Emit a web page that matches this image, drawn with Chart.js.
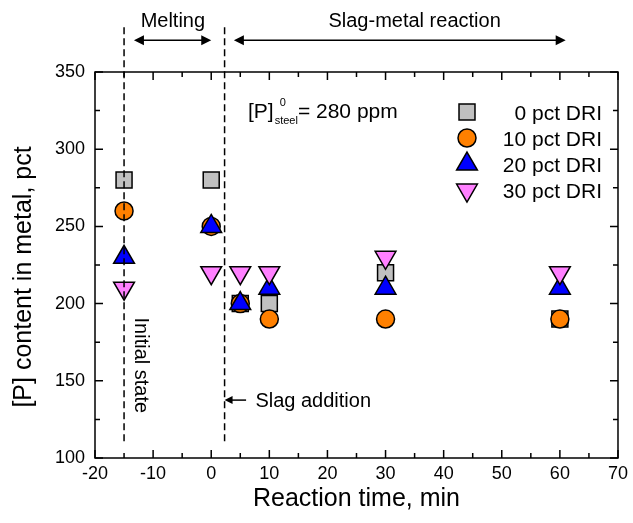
<!DOCTYPE html>
<html>
<head>
<meta charset="utf-8">
<script src="https://cdn.jsdelivr.net/npm/chart.js@4.4.1/dist/chart.umd.min.js"></script>
<style>
  body { margin: 0; background: #fff; }
  canvas { display: block; }
</style>
</head>
<body>
<canvas id="chart" width="633" height="523"></canvas>
<script>
// reaction time (min) and [P] in metal for each DRI level
const times = [-15, 0, 5, 10, 30, 60];
const dri0 = [280, 280, 200, 200, 220, 190];
const dri10 = [260, 250, 200, 190, 190, 190];
const dri20 = [230, 250, 200, 210, 210, 210];
const dri30 = [210, 220, 220, 220, 230, 220];
const seriesLabels = ['0 pct DRI', '10 pct DRI', '20 pct DRI', '30 pct DRI'];
const xTicks = [-20, -10, 0, 10, 20, 30, 40, 50, 60, 70];
const yTicks = [100, 150, 200, 250, 300, 350];

// time markers: initial state and slag addition
const initialTime = -15;
const slagTime = 2.3;

const FONT = "'Liberation Sans', Arial, sans-serif";

function points(vals) {
  return times.map((t, i) => ({ x: t, y: vals[i] }));
}

const base = { showLine: false, borderColor: '#000', borderWidth: 1.5, pointBorderWidth: 1.5 };

const datasets = [
  { ...base, label: seriesLabels[0], data: points(dri0), pointStyle: 'rect', pointRadius: 11.3, pointHoverRadius: 11.3, backgroundColor: '#c0c0c0', order: 4 },
  { ...base, label: seriesLabels[1], data: points(dri10), pointStyle: 'circle', pointRadius: 9, pointHoverRadius: 9, backgroundColor: '#ff8000', order: 3 },
  { ...base, label: seriesLabels[2], data: points(dri20), pointStyle: 'triangle', pointRadius: 12, pointHoverRadius: 12, backgroundColor: '#0000ff', order: 2 },
  { ...base, label: seriesLabels[3], data: points(dri30), pointStyle: 'triangle', pointRotation: 180, pointRadius: 12, pointHoverRadius: 12, backgroundColor: '#ff80ff', order: 1 }
];

function arrowHead(ctx, x, y, dir, len, half) {
  ctx.beginPath();
  ctx.moveTo(x, y);
  ctx.lineTo(x - dir * len, y - half);
  ctx.lineTo(x - dir * len, y + half);
  ctx.closePath();
  ctx.fill();
}

function hArrow(ctx, x1, x2, y, both) {
  ctx.beginPath();
  ctx.moveTo(x1 + (both ? 8 : 6), y);
  ctx.lineTo(x2 - 8, y);
  ctx.stroke();
  if (both) arrowHead(ctx, x1, y, -1, 10, 5);
  arrowHead(ctx, x2, y, 1, both ? 10 : 8, both ? 5 : 4);
}

const decorations = {
  id: 'decorations',
  afterDatasetsDraw(chart) {
    const { ctx, chartArea: a, scales: { x, y } } = chart;
    ctx.save();
    ctx.strokeStyle = '#000';
    ctx.fillStyle = '#000';
    ctx.lineWidth = 1.5;

    // frame
    ctx.strokeRect(a.left, a.top, a.right - a.left, a.bottom - a.top);

    // inward ticks on all four sides
    ctx.beginPath();
    for (let v = x.min; v <= x.max; v += 5) {
      const px = x.getPixelForValue(v);
      const len = v % 10 === 0 ? 8 : 5;
      ctx.moveTo(px, a.bottom); ctx.lineTo(px, a.bottom - len);
      ctx.moveTo(px, a.top); ctx.lineTo(px, a.top + len);
    }
    for (let v = y.min; v <= y.max; v += 25) {
      const py = y.getPixelForValue(v);
      const len = v % 50 === 0 ? 8 : 5;
      ctx.moveTo(a.left, py); ctx.lineTo(a.left + len, py);
      ctx.moveTo(a.right, py); ctx.lineTo(a.right - len, py);
    }
    ctx.stroke();

    // dashed time markers
    ctx.setLineDash([7, 4]);
    ctx.beginPath();
    [initialTime, slagTime].forEach(t => {
      const px = x.getPixelForValue(t);
      ctx.moveTo(px, y.getPixelForValue(379));
      ctx.lineTo(px, y.getPixelForValue(110));
    });
    ctx.stroke();
    ctx.setLineDash([]);

    // stage arrows
    const ay = y.getPixelForValue(370.5);
    hArrow(ctx, x.getPixelForValue(-13.3), x.getPixelForValue(0), ay, true);
    hArrow(ctx, x.getPixelForValue(3.9), x.getPixelForValue(61), ay, true);

    // slag addition pointer
    const sy = y.getPixelForValue(137.5);
    ctx.beginPath();
    ctx.moveTo(x.getPixelForValue(slagTime) + 6, sy);
    ctx.lineTo(x.getPixelForValue(6), sy);
    ctx.stroke();
    arrowHead(ctx, x.getPixelForValue(slagTime), sy, -1, 8, 4);

    ctx.textBaseline = 'alphabetic';
    ctx.font = '20px ' + FONT;
    ctx.textAlign = 'center';
    ctx.fillText('Melting', x.getPixelForValue(-6.6), 27);
    ctx.fillText('Slag-metal reaction', x.getPixelForValue(35), 27);

    ctx.textAlign = 'left';
    ctx.fillText('Slag addition', x.getPixelForValue(7.6), sy + 7);

    // vertical note beside the first marker
    ctx.save();
    ctx.translate(x.getPixelForValue(initialTime) + 11, y.getPixelForValue(160));
    ctx.rotate(Math.PI / 2);
    ctx.textAlign = 'center';
    ctx.fillText('Initial state', 0, 0);
    ctx.restore();

    // initial phosphorus note
    let tx = 248;
    const ty = 118;
    ctx.font = '21px ' + FONT;
    ctx.fillText('[P]', tx, ty);
    tx += ctx.measureText('[P]').width + 1;
    ctx.font = '11px ' + FONT;
    ctx.fillText('0', tx + 5, ty - 12);
    ctx.fillText('steel', tx, ty + 6);
    tx += ctx.measureText('steel').width;
    ctx.font = '21px ' + FONT;
    ctx.fillText('= 280 ppm', tx, ty);

    // legend
    ctx.font = '21px ' + FONT;
    ctx.textAlign = 'right';
    chart.data.datasets.forEach((ds, i) => {
      const ly = 112 + i * 26;
      ctx.fillStyle = ds.backgroundColor;
      ctx.strokeStyle = '#000';
      ctx.lineWidth = 1.5;
      Chart.helpers.drawPoint(ctx, {
        pointStyle: ds.pointStyle,
        radius: ds.pointRadius,
        rotation: ds.pointRotation || 0,
        borderWidth: 1.5
      }, 467, ly);
      ctx.fillStyle = '#000';
      ctx.fillText(ds.label, 602, ly + 8);
    });

    // axis titles
    ctx.font = '25px ' + FONT;
    ctx.textAlign = 'center';
    ctx.fillText('Reaction time, min', (a.left + a.right) / 2, 506);
    ctx.save();
    ctx.translate(31, 277);
    ctx.rotate(-Math.PI / 2);
    ctx.fillText('[P] content in metal, pct', 0, 0);
    ctx.restore();

    ctx.restore();
  }
};

new Chart(document.getElementById('chart'), {
  type: 'scatter',
  data: { datasets },
  options: {
    responsive: false,
    animation: false,
    layout: { padding: { top: 72, right: 10, left: 0, bottom: 0 } },
    plugins: { legend: { display: false }, tooltip: { enabled: false } },
    scales: {
      x: {
        type: 'linear',
        min: xTicks[0],
        max: xTicks[xTicks.length - 1],
        grid: { display: false, drawTicks: false },
        border: { display: false },
        ticks: { color: '#000', font: { family: FONT, size: 18 }, padding: 5, maxRotation: 0, autoSkip: false },
        afterBuildTicks: s => { s.ticks = xTicks.map(v => ({ value: v })); },
        afterFit: s => { s.height = 65; }
      },
      y: {
        type: 'linear',
        min: yTicks[0],
        max: yTicks[yTicks.length - 1],
        grid: { display: false, drawTicks: false },
        border: { display: false },
        ticks: { color: '#000', font: { family: FONT, size: 18 }, padding: 10, autoSkip: false },
        afterBuildTicks: s => { s.ticks = yTicks.map(v => ({ value: v })); },
        afterFit: s => { s.width = 95; }
      }
    }
  },
  plugins: [decorations]
});
</script>
</body>
</html>
